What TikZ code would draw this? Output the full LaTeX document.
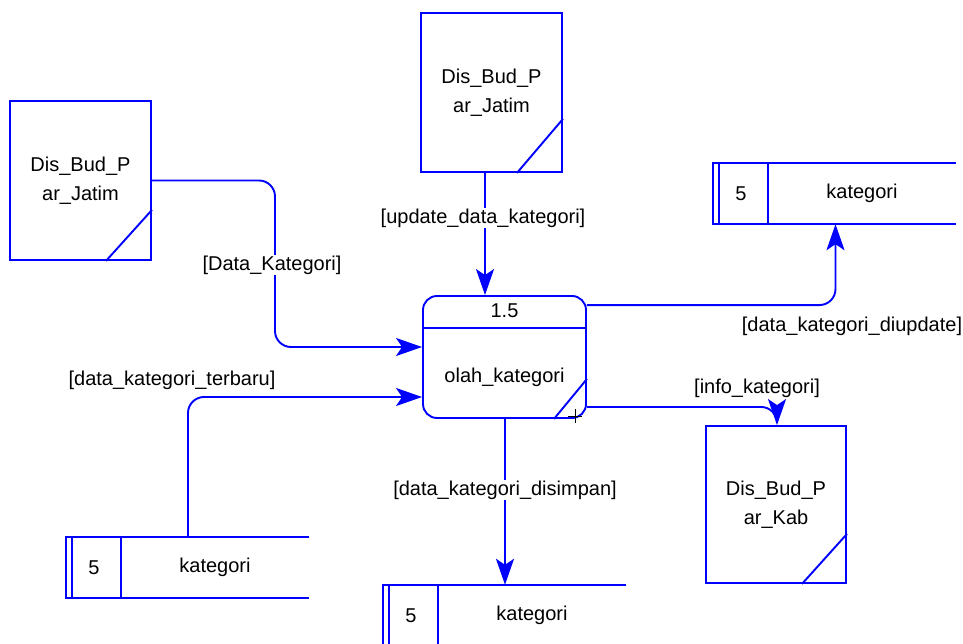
\documentclass[tikz,border=0pt]{standalone}
\usepackage{fontspec}
\setmainfont{Liberation Sans}
\usetikzlibrary{arrows.meta,positioning,calc}

\tikzset{
  dfd/.style={draw=blue, line width=1.9pt},
  entity/.style={dfd, rectangle, minimum width=141pt, minimum height=159pt, align=center, inner sep=0pt},
  process/.style={dfd, rectangle, rounded corners=14pt, minimum width=163pt, minimum height=122pt},
  storetext/.style={minimum height=61pt, inner sep=0pt},
  flow/.style={draw=blue, line width=1.9pt, -{Stealth[length=26pt,width=18pt,inset=6pt]}, rounded corners=16pt},
  lbl/.style={inner sep=1pt},
}

\begin{document}
\begin{tikzpicture}[x=1pt, y=-1pt, font=\fontsize{20}{29}\selectfont]
        \clip (0,0) rectangle (963,644);

        % Entitas luar
        \node[entity] (e1) at (80.5,180.5) {Dis\_Bud\_P\\ar\_Jatim};
        \draw[dfd] ([yshift=51pt]e1.south east) -- ([xshift=-46pt]e1.south east);
        \node[entity] (e2) at (491.5,92.5) {Dis\_Bud\_P\\ar\_Jatim};
        \draw[dfd] ([yshift=54pt]e2.south east) -- ([xshift=-46pt]e2.south east);
        \node[entity, minimum width=140pt, minimum height=157pt] (e3) at (776,504.5) {Dis\_Bud\_P\\ar\_Kab};
        \draw[dfd] ([yshift=50pt]e3.south east) -- ([xshift=-45pt]e3.south east);

        % Proses
        \node[process] (p) at (504.5,357) {};
        \draw[dfd] ([yshift=-33pt]p.north west) -- ([yshift=-33pt]p.north east);
        \node (pid) at ([yshift=-16pt]p.north) {1.5};
        \node (pname) at ([yshift=-20pt]p.center) {olah\_kategori};
        \draw[dfd] ([yshift=40pt]p.south east) -- ([xshift=-33pt]p.south east);
        \draw[black, line width=0.9pt] (568,416) -- (582,416) (575,409) -- (575,423);

        % Data store
        \foreach \n/\x/\y in {ds1/713/163, ds2/66/537, ds3/383/585} {
          \draw[dfd] (\x+243,\y) -- (\x,\y) -- (\x,\y+61) -- (\x+243,\y+61);
          \draw[dfd] (\x+6,\y) -- (\x+6,\y+61);
          \draw[dfd] (\x+55,\y) -- (\x+55,\y+61);
          \node (\n-id) at (\x+28,\y+30.5) {5};
          \node[storetext] (\n) at (\x+149,\y+30.5) {kategori};
        }

        % Aliran data
        \coordinate (b1) at (275,265);
        \draw[flow] (e1.east) -| (b1) |- ([yshift=10pt]p.west);
        \node[lbl, fill=white] (l1) at (272,265) {[Data\_Kategori]};

        \draw[flow] ([xshift=-6.5pt]e2.south) -- ([xshift=-6.5pt]e2.south |- p.north);
        \node[lbl, fill=white] (l2) at (483,218) {[update\_data\_kategori]};

        \draw[flow] ([xshift=-27pt]ds2.north) |- ([yshift=-40pt]p.west);
        \node[lbl] (l3) at (172,380) {[data\_kategori\_terbaru]};

        \draw[flow] ([yshift=-10pt]p.north east) -| ([xshift=-26.5pt]ds1.south);
        \node[lbl] (l4) at (852,326) {[data\_kategori\_diupdate]};

        \node[lbl] (l5) at (757,388) {[info\_kategori]};
        \draw[flow] ([yshift=12pt]p.south east) -| ([xshift=1pt]e3.north);

        \draw[flow] ([xshift=0.5pt]p.south) -- ([xshift=0.5pt]p.south |- ds3.north);
        \node[lbl, fill=white] (l6) at (505,490) {[data\_kategori\_disimpan]};
\end{tikzpicture}
\end{document}
